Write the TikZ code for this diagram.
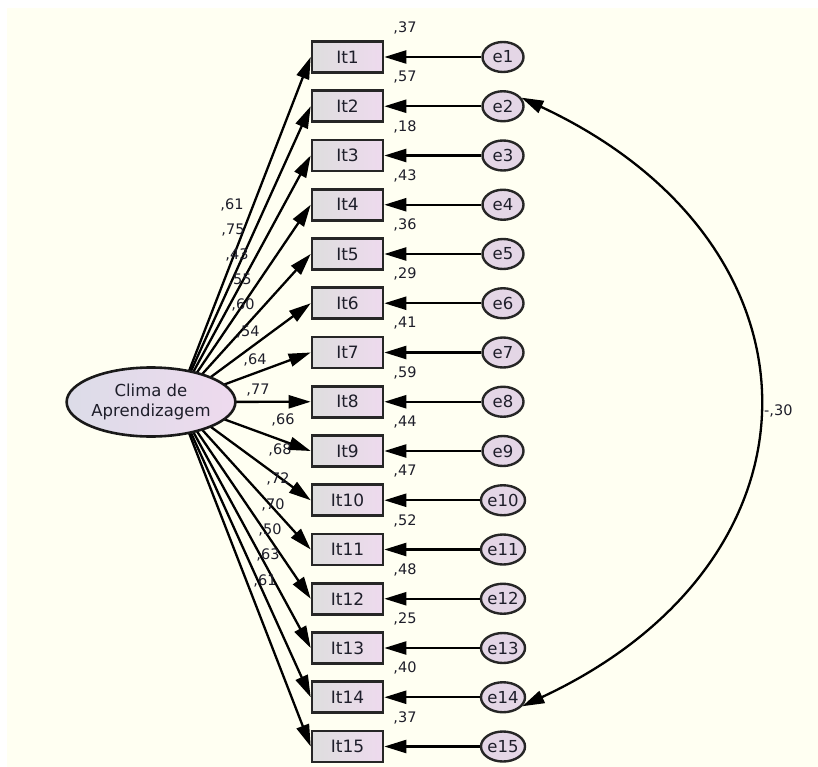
\documentclass[tikz,border=0pt]{standalone}
\usepackage{fontspec}
\setmainfont{DejaVu Sans}
\usetikzlibrary{arrows.meta,shapes.geometric}
\pgfdeclarelayer{bg}
\pgfsetlayers{bg,main}
\definecolor{bgcream}{HTML}{FFFFF2}
\definecolor{txt}{HTML}{1E1E2A}
\definecolor{boxl}{HTML}{DEDEDE}
\definecolor{boxr}{HTML}{EEDAEE}
\definecolor{ell}{HTML}{E4D6E6}
\definecolor{latl}{HTML}{DCDCE8}
\definecolor{latr}{HTML}{EEDAEE}
\tikzset{
  item/.style={draw=black!85, line width=2.6pt, minimum width=71pt, minimum height=31pt,
    left color=boxl, right color=boxr, inner sep=0pt, font=\fontsize{17}{19}\selectfont, text=txt},
  err/.style={ellipse, draw=black!85, line width=2.4pt, minimum width=41pt, minimum height=30pt,
    fill=ell, inner sep=0pt, font=\fontsize{16.5}{18}\selectfont, text=txt},
  latent/.style={ellipse, draw=black!90, line width=2.6pt, minimum width=151pt, minimum height=69pt,
    left color=latl, right color=latr, inner sep=0pt, align=center,
    font=\fontsize{16.5}{20}\selectfont, text=txt},
  val/.style={font=\fontsize{14.5}{16}\selectfont, text=txt, inner sep=0pt},
  path/.style={line width=2.3pt, -{Triangle[length=22pt,width=13pt]}},
  cov/.style={line width=2.3pt, {Triangle[length=22pt,width=13pt]}-{Triangle[length=22pt,width=13pt]}}
}
\begin{document}
\begin{tikzpicture}[x=1pt,y=-1pt]
\useasboundingbox (0,0) rectangle (818,767);
\begin{pgfonlayer}{bg}
\fill[white] (0,0) rectangle (818,767);
\fill[bgcream] (7,8) rectangle (818,767);
\end{pgfonlayer}
\node[latent] (clima) at (151,402) {Clima de\\Aprendizagem};
\coordinate (hub) at (177,402);
\foreach \i/\r in {1/{,37},2/{,57},3/{,18},4/{,43},5/{,36},6/{,29},7/{,41},8/{,59},9/{,44},10/{,47},11/{,52},12/{,48},13/{,25},14/{,40},15/{,37}}{
  \pgfmathsetmacro{\yy}{57+(\i-1)*49.25}
  \node[item] (It\i) at (347.5,\yy) {It\i};
  \node[err] (e\i) at (503,\yy) {e\i};
  \node[val] (r\i) at (405,\yy-29) {\r};
  \draw[path] (e\i) -- (It\i);
  \begin{pgfonlayer}{bg}
  \draw[path] (hub) -- (It\i.west);
  \end{pgfonlayer}
}
\foreach \i/\w/\x/\y in {1/{,61}/232/205,2/{,75}/233/230,3/{,43}/237/255,4/{,55}/240/280,5/{,60}/243/305,6/{,54}/248/332,7/{,64}/255/360,8/{,77}/258/390,9/{,66}/283/420,10/{,68}/280/450,11/{,72}/278/479,12/{,70}/273/505,13/{,50}/270/530,14/{,63}/268/555,15/{,61}/265/581}{
  \node[val] (w\i) at (\x,\y) {\w};
}
\draw[cov] (e2.25) to[out=-25,in=25,looseness=1.46] (e14.-25);
\node[val, anchor=west] (c214) at (764,411) {-,30};
\end{tikzpicture}
\end{document}
